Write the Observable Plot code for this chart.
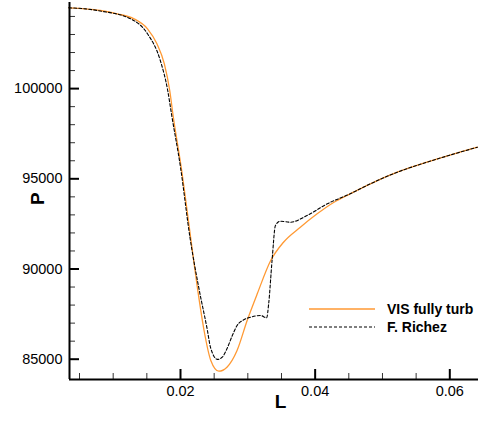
<!DOCTYPE html>
<html><head><meta charset="utf-8">
<script src="https://cdn.jsdelivr.net/npm/d3@7"></script>
<script src="https://cdn.jsdelivr.net/npm/@observablehq/plot@0.6"></script>
<style>
body{margin:0;background:#fff;}
#wrap{position:relative;width:478px;height:421px;font-family:"Liberation Sans",Arial,sans-serif;}
#wrap svg.plot{display:block;}
#legend{position:absolute;left:309px;top:300px;font:bold 14px "Liberation Sans",Arial,sans-serif;color:#000;}
#legend .row{display:flex;align-items:center;height:18px;}
#legend .row svg{width:66px;height:18px;margin-right:12px;display:block;}
</style></head><body>
<div id="wrap"></div>
<script>
// Series: VIS fully turb (orange, solid)
const visL = [0.00341,0.0059,0.0081,0.0106,0.0131,0.0151,0.0165,0.0176,0.0184,0.0189,0.0201,0.0215,0.0225,0.0235,0.0245,0.0257,0.0269,0.0284,0.0299,0.0314,0.0334,0.0353,0.0378,0.0403,0.0428,0.0452,0.0482,0.0522,0.0566,0.0600,0.0641];
const visP = [104478,104420,104330,104146,103868,103314,102483,101374,99894,98508,95643,91762,88991,86591,84928,84335,84557,85482,87145,88625,90471,91485,92317,93060,93703,94168,94722,95365,95920,96311,96751];
// Series: F. Richez (black, dashed)
const richezL = [0.00341,0.0059,0.0081,0.0126,0.0151,0.0170,0.0181,0.0187,0.0200,0.0214,0.0227,0.0240,0.02445,0.0255,0.0262,0.0269,0.0277,0.0284,0.0294,0.0304,0.0319,0.0328,0.0331,0.0336,0.0341,0.0348,0.0363,0.0388,0.0418,0.0452,0.0482,0.0522,0.0566,0.0600,0.0641];
const richezP = [104478,104420,104300,103868,103037,101557,99894,98508,95643,91762,88991,86591,85665,84990,85111,85576,86314,86868,87184,87328,87422,87295,88087,90471,92411,92649,92594,92965,93614,94168,94722,95365,95920,96311,96751];
const seriesNames = ["VIS fully turb","F. Richez"];
const seriesColors = ["#ff9933","#000000"];
// Axes
const xDomain = [0.003513,0.064263];
const yDomain = [83875,104773];
const xMajorTicks = [0.02,0.04,0.06];
const xMinorTicks = [0.005,0.01,0.015,0.025,0.03,0.035,0.045,0.05,0.055];
const yMajorTicks = [85000,90000,95000,100000];
const yMinorTicks = [86000,87000,88000,89000,91000,92000,93000,94000,96000,97000,98000,99000,101000,102000,103000,104000];
const xLabel = "L", yLabel = "P";

const W = 478, H = 421, mL = 69, mR = 0, mT = 2, mB = 42;
const frameW = W - mL - mR, frameH = H - mT - mB;
const visData = visL.map((L,i)=>({L, P: visP[i]}));
const richezData = richezL.map((L,i)=>({L, P: richezP[i]}));

const chart = Plot.plot({
  width: W, height: H, marginLeft: mL, marginRight: mR, marginTop: mT, marginBottom: mB,
  style: {fontFamily: "Liberation Sans, Arial, sans-serif", background: "white", color: "black", overflow: "visible"},
  x: {domain: xDomain},
  y: {domain: yDomain},
  marks: [
    Plot.ruleX(xMinorTicks, {x: d=>d, insetTop: frameH-6, stroke: "#333", strokeWidth: 1}),
    Plot.ruleX(xMajorTicks, {x: d=>d, insetTop: frameH-10, stroke: "#000", strokeWidth: 2}),
    Plot.ruleY(yMinorTicks, {y: d=>d, insetRight: frameW-6, stroke: "#333", strokeWidth: 1}),
    Plot.ruleY(yMajorTicks, {y: d=>d, insetRight: frameW-10, stroke: "#000", strokeWidth: 2}),
    Plot.line(visData, {x: "L", y: "P", stroke: seriesColors[0], strokeWidth: 1.3, curve: "monotone-x"}),
    Plot.line(richezData, {x: "L", y: "P", stroke: seriesColors[1], strokeWidth: 1.1, strokeDasharray: "3,2", curve: "monotone-x"}),
    Plot.ruleX([xDomain[0]], {x: d=>d, stroke: "#000", strokeWidth: 2}),
    Plot.ruleY([yDomain[0]], {y: d=>d, stroke: "#000", strokeWidth: 2}),
    Plot.axisX({ticks: xMajorTicks, tickSize: 0, tickPadding: 6, tickFormat: d=>d.toFixed(2), fontSize: 14.5, label: null}),
    Plot.axisY({ticks: yMajorTicks, tickSize: 0, tickPadding: 7, tickFormat: d=>String(d), fontSize: 14.5, label: null}),
    Plot.text([yLabel], {frameAnchor: "left", dx: -31.5, dy: 14, rotate: -90, fontWeight: "bold", fontSize: 19}),
    Plot.text([xLabel], {frameAnchor: "bottom", dx: 6.5, dy: 28.5, fontWeight: "bold", fontSize: 19})
  ]
});
const wrap = document.getElementById("wrap");
wrap.appendChild(chart);

const legend = document.createElement("div");
legend.id = "legend";
seriesNames.forEach((name, i) => {
  const row = document.createElement("div");
  row.className = "row";
  const dash = i === 1 ? ' stroke-dasharray="3,2"' : '';
  row.innerHTML = `<svg viewBox="0 0 66 18"><line x1="0" x2="66" y1="9" y2="9" stroke="${seriesColors[i]}" stroke-width="${i===0?1.3:1.1}"${dash}/></svg><span>${name}</span>`;
  legend.appendChild(row);
});
wrap.appendChild(legend);
</script>
</body></html>
